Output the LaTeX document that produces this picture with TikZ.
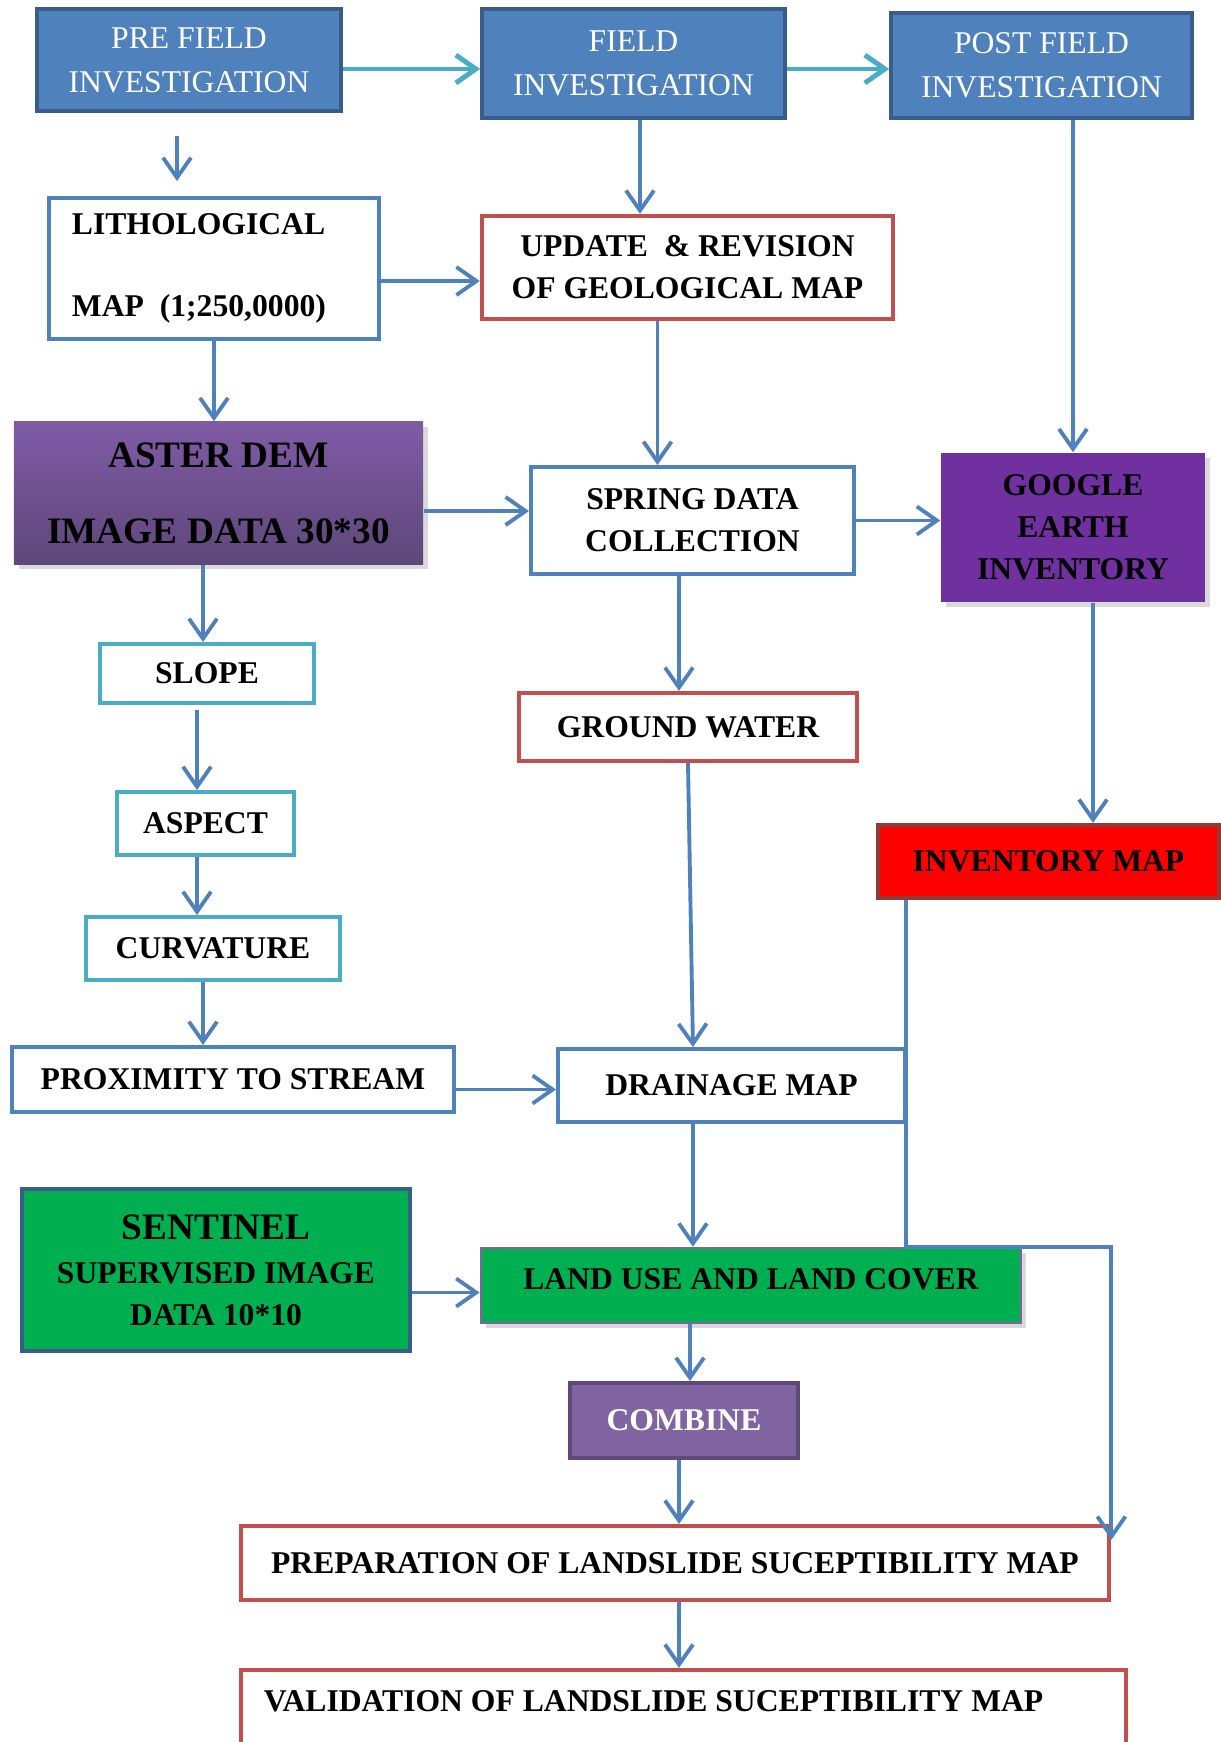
\documentclass[tikz,border=0pt]{standalone}
\usepackage{fontspec}
\setmainfont{Liberation Serif}
\usepackage{xcolor}
\usetikzlibrary{arrows.meta, shadows}

\definecolor{hdblue}{HTML}{4F81BD}
\definecolor{hdedge}{HTML}{385D8A}
\definecolor{aqua}{HTML}{4BACC6}
\definecolor{brick}{HTML}{C0504D}
\definecolor{plumtop}{HTML}{7F5BA6}
\definecolor{plumbot}{HTML}{5E4779}
\definecolor{grape}{HTML}{7030A0}
\definecolor{leaf}{HTML}{00B050}
\definecolor{lilac}{HTML}{8064A2}
\definecolor{lilacedge}{HTML}{5F497A}
\definecolor{darkred}{HTML}{8E3A38}

\begin{document}
\begin{tikzpicture}[x=0.01cm,y=-0.01cm,->,>={Straight Barb[length=2mm,width=2.8mm]},font=\fontsize{9}{11.9}\selectfont\bfseries]
                \tikzset{every edge/.style={draw, hdblue, line width=1.1pt},
                         stage/.style={draw=hdedge, fill=hdblue, text=white, line width=1pt, align=center, font=\fontsize{9}{12.5}\selectfont},
                         plain/.style={draw=hdblue, fill=white, line width=1.1pt, align=center},
                         factor/.style={draw=aqua, fill=white, line width=1.1pt},
                         result/.style={draw=brick, fill=white, line width=1.2pt, align=center},
                         softshadow/.style={drop shadow={opacity=0.3, shadow xshift=0.05cm, shadow yshift=-0.05cm}}}
                \useasboundingbox (0,0) rectangle (1221,1742);
                \node[stage, minimum width=3.04cm, minimum height=1.02cm] (pre) at (189,60) {PRE FIELD\\INVESTIGATION};
                \node[stage, minimum width=3.03cm, minimum height=1.09cm] (field) at (633.5,63.5) {FIELD\\INVESTIGATION};
                \node[stage, minimum width=3.01cm, minimum height=1.05cm] (post) at (1041.5,65.5) {POST FIELD\\INVESTIGATION};
                \node[plain, minimum width=3.30cm, minimum height=1.41cm, text width=2.84cm, align=flush left] (litho) at (214,268.5) {LITHOLOGICAL\\[11.5pt]MAP\ \ (1;250,0000)};
                \node[result, minimum width=4.11cm, minimum height=1.03cm] (update) at (687.5,267.5) {UPDATE\ \ \& REVISION\\OF GEOLOGICAL MAP};
                \node[softshadow, top color=plumtop, bottom color=plumbot, minimum width=4.09cm, minimum height=1.42cm, align=center, font=\fontsize{10.6}{12.7}\selectfont\bfseries] (aster) at (218.5,493) {ASTER DEM\\[8.9pt]IMAGE DATA 30*30};
                \node[plain, minimum width=3.23cm, minimum height=1.07cm] (spring) at (692.5,520.5) {SPRING DATA\\COLLECTION};
                \node[softshadow, fill=grape, minimum width=2.64cm, minimum height=1.49cm, align=center] (google) at (1073,527.5) {GOOGLE\\EARTH\\INVENTORY};
                \node[factor, minimum width=2.14cm, minimum height=0.59cm] (slope) at (207,673.5) {SLOPE};
                \node[result, minimum width=3.38cm, minimum height=0.68cm] (ground) at (688,727) {GROUND WATER};
                \node[factor, minimum width=1.77cm, minimum height=0.63cm] (aspect) at (205.5,823.5) {ASPECT};
                \node[draw=darkred, fill=red, line width=1.2pt, minimum width=3.41cm, minimum height=0.73cm] (invmap) at (1048.5,861.5) {INVENTORY MAP};
                \node[factor, minimum width=2.54cm, minimum height=0.63cm] (curv) at (213,948.5) {CURVATURE};
                \node[plain, minimum width=4.42cm, minimum height=0.65cm] (prox) at (233,1079.5) {PROXIMITY TO STREAM};
                \node[plain, minimum width=3.47cm, minimum height=0.73cm] (drain) at (731.5,1085.5) {DRAINAGE MAP};
                \node[draw=hdedge, fill=leaf, line width=1.1pt, minimum width=3.88cm, minimum height=1.62cm, align=center] (sentinel) at (216,1270) {{\fontsize{10.6}{12.6}\selectfont SENTINEL}\\[0.7pt]SUPERVISED IMAGE\\DATA 10*10};
                \node[softshadow, draw=lilac, fill=leaf, line width=0.7pt, minimum width=5.40cm, minimum height=0.75cm, text depth=0.12cm] (landuse) at (751,1285.5) {LAND USE AND LAND COVER};
                \node[draw=lilacedge, fill=lilac, text=white, line width=1.1pt, minimum width=2.28cm, minimum height=0.75cm] (combine) at (684,1420.5) {COMBINE};
                \node[result, minimum width=8.68cm, minimum height=0.74cm] (prep) at (675,1563) {PREPARATION OF LANDSLIDE SUCEPTIBILITY MAP};
                \node[result, minimum width=8.85cm, minimum height=1.00cm, text width=8.39cm, align=flush left, text depth=0.37cm] (valid) at (683.5,1720) {VALIDATION OF LANDSLIDE SUCEPTIBILITY MAP};
                \coordinate (prefoot) at (177,136);
                \path ([yshift=-0.09cm]pre.east) edge[aqua, line width=1.4pt] ([yshift=-0.09cm]pre.east -| field.west);
                \path ([yshift=-0.055cm]field.east) edge[aqua, line width=1.4pt] ([yshift=-0.055cm]field.east -| post.west);
                \path (prefoot) edge ([yshift=0.15cm]prefoot |- litho.north);
                \path ([xshift=0.065cm]field.south) edge ([xshift=0.065cm]field.south |- update.north);
                \path ([yshift=-0.125cm]litho.east) edge ([yshift=-0.125cm]litho.east -| update.west);
                \path (litho.south) edge (litho.south |- aster.north);
                \path ([xshift=-0.3cm]update.south) edge ([xshift=-0.3cm]update.south |- spring.north);
                \path (google.north |- post.south) edge (google.north);
                \path ([yshift=-0.18cm]aster.east) edge ([yshift=-0.18cm]aster.east -| spring.west);
                \path (spring) edge (spring -| google.west);
                \path ([xshift=-0.04cm]slope.north |- aster.south) edge ([xshift=-0.04cm]slope.north);
                \path ([xshift=-0.09cm]ground.north |- spring.south) edge ([xshift=-0.09cm]ground.north);
                \path ([xshift=0.2cm]google.south) edge ([xshift=0.2cm]google.south |- invmap.north);
                \path ([xshift=-0.085cm,yshift=-0.05cm]aspect.north |- slope.south) edge ([xshift=-0.085cm]aspect.north);
                \path ([xshift=-0.085cm]aspect.south) edge ([xshift=-0.085cm]aspect.south |- curv.north);
                \path ([xshift=-0.1cm]curv.south) edge ([xshift=-0.1cm]curv.south |- prox.north);
                \path (ground.south) edge ([xshift=-0.385cm]drain.north);
                \path ([yshift=-0.1cm]prox.east) edge ([yshift=-0.1cm]prox.east -| drain.west);
                \path ([xshift=-0.385cm]drain.south) edge ([xshift=-0.385cm]drain.south |- landuse.north);
                \path ([yshift=-0.07cm]landuse.west -| sentinel.east) edge ([yshift=-0.07cm]landuse.west);
                \path ([xshift=0.06cm]combine.north |- landuse.south) edge ([xshift=0.06cm]combine.north);
                \path ([xshift=-0.05cm]combine.south) edge ([xshift=-0.05cm]combine.south |- prep.north);
                \path ([xshift=-0.05cm]combine.south |- prep.south) edge ([xshift=-0.05cm]combine.south |- valid.north);
                \draw[hdblue, line width=1.1pt] ([xshift=0.3cm]invmap.south west) |- (prep.north east |- landuse.north) -- ([yshift=-0.16cm]prep.north east);
            \end{tikzpicture}
\end{document}
